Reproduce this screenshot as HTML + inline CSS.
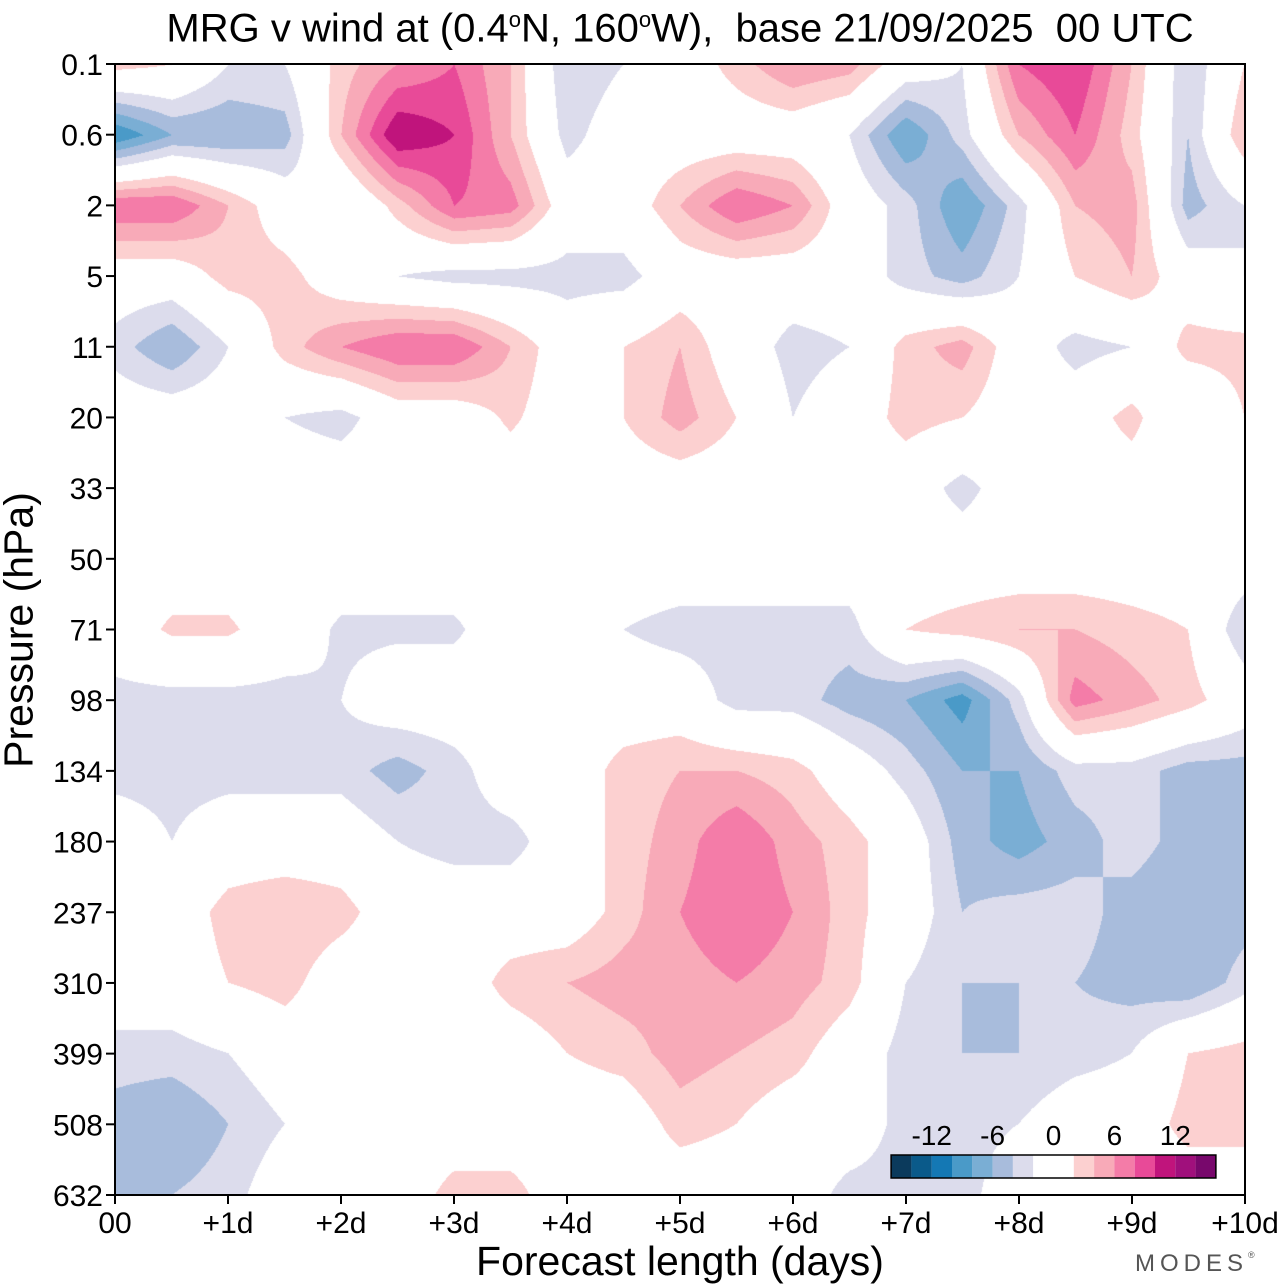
<!DOCTYPE html>
<html><head><meta charset="utf-8">
<style>
body{margin:0;background:#fff;width:1280px;height:1286px;overflow:hidden;font-family:"Liberation Sans",sans-serif;position:relative}
.t{position:absolute;white-space:nowrap;color:#000}
canvas{position:absolute;left:115px;top:64px}
</style></head><body>
<div class="t" style="left:0;width:1360px;text-align:center;top:-4px;font-size:40px;line-height:48px">MRG v wind at (0.4<sup style="font-size:22px">o</sup>N, 160<sup style="font-size:22px">o</sup>W),&nbsp; base 21/09/2025&nbsp; 00 UTC</div>
<canvas id="c" width="1130" height="1131"></canvas>
<svg id="ax" width="1280" height="1286" style="position:absolute;left:0;top:0"></svg>
<div class="t" style="left:0;width:1360px;text-align:center;top:1237px;font-size:41px;line-height:48px">Forecast length (days)</div>
<div class="t" style="left:19px;top:630px;font-size:41px;transform:translate(-50%,-50%) rotate(-90deg)">Pressure (hPa)</div>
<div class="t" style="left:1135px;top:1250px;font-size:24px;letter-spacing:5px;color:#555">MODES<span style="font-size:9px;vertical-align:top">®</span></div>
<script>
const levels=["0.1","0.6","2","5","11","20","33","50","71","98","134","180","237","310","399","508","632"];
const days=["00","+1d","+2d","+3d","+4d","+5d","+6d","+7d","+8d","+9d","+10d"];
const cbLabels=["-12","-6","0","6","12"];
const cbValues=[-12,-6,0,6,12];
// v wind grid: rows = pressure levels, columns = every half day 0..10
const r0=[3,2,-2,-2,3,6,8,4,-4,-2,0,3,6,5,0,-2,8,10,4,-4,2];
const r1=[-10,-6,-6,-5,4,12,10,4,-3,0,0,0,0,-2,-8,-3,4,8,3,-4,4];
const r2=[8,8,4,0,-2,3,8,7,0,0,4,8,6,0,-3,-8,-3,4,5,-5,-2];
const r3=[0,0,3,3,0,-2,-3,-3,-3,-3,0,0,0,0,-3,-5,-2,2,4,0,-2];
const r4=[-3,-6,-2,3,6,8,8,4,0,2,4,0,-3,-2,3,5,0,-3,-2,3,3];
const r5=[0,0,0,-2,-3,0,0,2.5,0,2,5,2,-2,0,3,2,0,0,3,-2,2];
const r6=[0,0,0,0,0,0,0,0,0,0,0,0,0,0,0,-3,0,0,0,0,0];
const r7=[0,0,0,0,0,0,0,0,0,0,0,0,0,0,0,0,0,0,0,0,0];
const r8=[0,2.5,2.5,0,-2.5,-2.5,-2.5,0,0,-2,-3,-3,-3,-3,2,3,4,4,3,2,-4];
const r9=[-3,-3,-3,-3,-2,0,0,0,0,0,0,-3,-3,-5,-6,-9,-3,7,5,3,0];
const r10=[-3,-3,-3,-3,-3,-5,-3,0,0,3,4,4,3,0,-3,-6,-6,-3,-3,-5,-5];
const r11=[0,-2,0,0,0,-2,-3,-3,0,3,5,8,5,3,0,-5,-7,-5,-3,-5,-5];
const r12=[0,0,3,4,3,0,0,0,0,3,6,8,6,3,0,-4,-3,-3,-5,-6,-5];
const r13=[0,0,2,3,0,0,0,3,4,5,5,6,5,3,-2,-4,-4,-4,-5,-6,-3];
const r14=[-3,-3,-2,0,0,0,0,0,2,3,5,4,3,0,-3,-4,-4,-3,-2,2,3];
const r15=[-5,-6,-4,-2,0,0,0,0,0,0,3,2,0,0,-3,-3,-2,0,0,3,3];
const r16=[-4,-4,-3,0,0,0,3,3,0,0,0,0,0,-3,-3,-3,0,0,0,0,0];
const grid=[r0,r1,r2,r3,r4,r5,r6,r7,r8,r9,r10,r11,r12,r13,r14,r15,r16];
const blues=["#0b3a5c","#0a5a8a","#1478b4","#4a9ac8","#7aaed4","#a8bcdc","#dcdcec"];
const pinks=["#fcd0d0","#f8aab8","#f47ca8","#e84a98","#c0147c","#a0107c","#78086c","#4a0a5c"];
const X0=115,X1=1245,Y0=64,Y1=1195;
const xs=d=>X0+(X1-X0)*d/10, ys=i=>Y0+(Y1-Y0)*i/16;
function color(v){
  if(v<=-2){let k=Math.min(6,Math.floor((-v-2)/2));return blues[6-k];}
  if(v>=2){let k=Math.min(7,Math.floor((v-2)/2));return pinks[k];}
  return null;}
function hex(c){return [parseInt(c.slice(1,3),16),parseInt(c.slice(3,5),16),parseInt(c.slice(5,7),16)];}
const cv=document.getElementById('c'),ctx=cv.getContext('2d');
const W=cv.width,H=cv.height,img=ctx.createImageData(W,H);
const nc=grid[0].length-1,nr=grid.length-1;
for(let py=0;py<H;py++){
  const gy=py/(H-1)*nr,i=Math.min(nr-1,Math.floor(gy)),fy=gy-i;
  for(let px=0;px<W;px++){
    const gx=px/(W-1)*nc,j=Math.min(nc-1,Math.floor(gx)),fx=gx-j;
    const v=(grid[i][j]*(1-fx)+grid[i][j+1]*fx)*(1-fy)+(grid[i+1][j]*(1-fx)+grid[i+1][j+1]*fx)*fy;
    const c=color(v);const o=(py*W+px)*4;
    const rgb=c?hex(c):[255,255,255];
    img.data[o]=rgb[0];img.data[o+1]=rgb[1];img.data[o+2]=rgb[2];img.data[o+3]=255;}}
ctx.putImageData(img,0,0);
const svg=document.getElementById('ax'),NS="http://www.w3.org/2000/svg";
function mk(t,a,txt){const e=document.createElementNS(NS,t);for(const k in a)e.setAttribute(k,a[k]);if(txt!==undefined)e.textContent=txt;svg.appendChild(e);return e;}
let fr=mk('rect',{x:X0,y:Y0,width:X1-X0,height:Y1-Y0,fill:'none',stroke:'#000','stroke-width':2});


levels.forEach((l,i)=>{
  const y=ys(i);
  const tk=mk('line',{x1:X0-9,x2:X0,y1:y,y2:y,stroke:'#000','stroke-width':2});
  
  
  const t=mk('text',{x:X0-12,y:y+11,'text-anchor':'end','font-size':30,'font-family':'Liberation Sans'},l);
  
  
});
days.forEach((d,i)=>{
  const x=xs(i);
  const tk=mk('line',{x1:x,x2:x,y1:Y1,y2:Y1+9,stroke:'#000','stroke-width':2});
  
  
  const t=mk('text',{x:x,y:1233,'text-anchor':'middle','font-size':30,'font-family':'Liberation Sans'},d);
  
  
});
// colorbar: -16..16 step 2
const cbX=v=>1053.5+v*10.15;
const cbCols=blues.concat(["#ffffff","#ffffff"],pinks);
for(let k=0;k<16;k++){
  const v=-16+2*k;
  const r=mk('rect',{x:cbX(v),y:1155,width:cbX(v+2)-cbX(v),height:23,fill:cbCols[k]});
  
  
}
const cbf=mk('rect',{x:cbX(-16),y:1155,width:cbX(16)-cbX(-16),height:23,fill:'none',stroke:'#000','stroke-width':1.5});


cbLabels.forEach((l,i)=>{
  const t=mk('text',{x:cbX(cbValues[i]),y:1145,'text-anchor':'middle','font-size':28,'font-family':'Liberation Sans'},l);
  
  
});
</script>
</body></html>
